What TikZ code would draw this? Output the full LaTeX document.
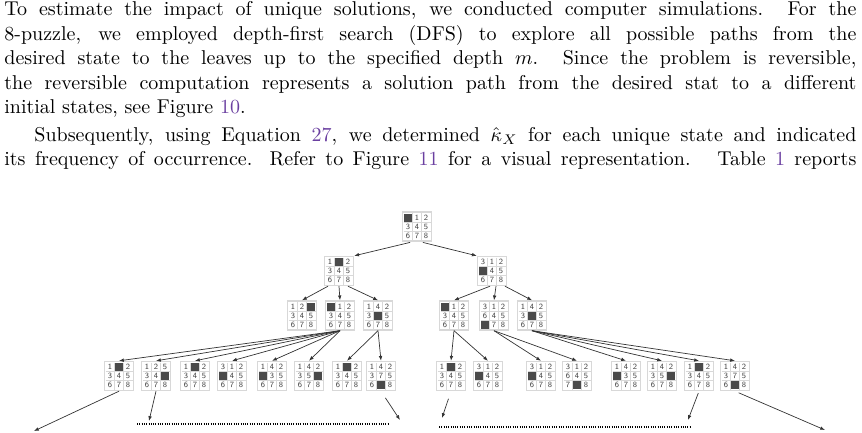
\documentclass[tikz,border=0pt]{standalone}
\usepackage{amsmath}
\usepackage{xcolor}
\usepackage{tikz}
\usetikzlibrary{positioning, arrows.meta, calc}
\definecolor{linkc}{HTML}{6A3FA0}
\definecolor{tilegray}{HTML}{D8D8D8}
\definecolor{blankc}{HTML}{4A4A4A}

% one 8-puzzle state: name, centre, nine entries (0 = blank)
\newcommand{\pstate}[3]{%
  \node[puzbox] (#1) at (#2) {};
  \foreach \v [count=\k from 0] in {#3} {%
    \pgfmathtruncatemacro{\rr}{\k/3}%
    \pgfmathtruncatemacro{\cc}{\k-3*\rr}%
    \ifnum\v=0
      \fill[blankc] ($(#1)+({\cc*9-13},{\rr*9-13})$) rectangle ++(8,8);
    \else
      \node[digit] (#1d\k) at ($(#1)+({\cc*9-9},{\rr*9-9})$) {\v};
    \fi
  }%
  \foreach \i in {1,2} {%
    \draw[cell] ($(#1)+({9*\i-13.5},-13.5)$) -- ++(0,27);
    \draw[cell] ($(#1)+(-13.5,{9*\i-13.5})$) -- ++(27,0);
  }%
}

\begin{document}
\begin{tikzpicture}[
  x=0.5pt, y=-0.5pt,
  puzbox/.style={draw=tilegray, line width=0.7pt, fill=white,
                 minimum size=14.5pt, inner sep=0pt},
  cell/.style={draw=tilegray, line width=0.3pt},
  digit/.style={font=\fontsize{4}{5}\selectfont\sffamily, text=black!75,
                inner sep=0pt},
  arr/.style={-{Latex[length=2.4pt, width=1.8pt]}, line width=0.35pt,
              draw=black!80},
  dots/.style={line width=0.6pt, dash pattern=on 0.45pt off 0.7pt},
  para/.style={text width=426pt, inner sep=0pt, align=justify,
               font=\fontsize{10}{12.25}\selectfont, anchor=base west}
]
\useasboundingbox (0,0) rectangle (862,433);

\node[para] (txt) at (4,16)
  {To estimate the impact of unique solutions, we conducted computer simulations. For the\linebreak
   8-puzzle, we employed depth-first search (DFS) to explore all possible paths from the\linebreak
   desired state to the leaves up to the specified depth $m$. Since the problem is reversible,\linebreak
   the reversible computation represents a solution path from the desired stat to a different\linebreak
   initial states, see Figure~{\color{linkc}10}.\par\vspace{1.3pt}
   \hspace*{15pt}Subsequently, using Equation~{\color{linkc}27}, we determined $\hat{\kappa}_X$ for each unique state and indicated\linebreak
   its frequency of occurrence. Refer to Figure~{\color{linkc}11} for a visual representation. \ Table~{\color{linkc}1} reports\parfillskip=0pt\par};

% root and first two levels
\pstate{r0}{417,226.5}{0,1,2,3,4,5,6,7,8}
\pstate{a1}{339,271}{1,0,2,3,4,5,6,7,8}
\pstate{a2}{492,271}{3,1,2,0,4,5,6,7,8}
\pstate{b1}{302,315.5}{1,2,0,3,4,5,6,7,8}
\pstate{b2}{340,315.5}{0,1,2,3,4,5,6,7,8}
\pstate{b3}{378,315.5}{1,4,2,3,0,5,6,7,8}
\pstate{b4}{454,315.5}{0,1,2,3,4,5,6,7,8}
\pstate{b5}{494,315.5}{3,1,2,6,4,5,0,7,8}
\pstate{b6}{532,315.5}{1,4,2,3,0,5,6,7,8}

% third level
\pstate{c1}{119,376}{1,0,2,3,4,5,6,7,8}
\pstate{c2}{156,376}{1,2,5,3,4,0,6,7,8}
\pstate{c3}{195,376}{1,0,2,3,4,5,6,7,8}
\pstate{c4}{232,376}{3,1,2,0,4,5,6,7,8}
\pstate{c5}{272,376}{1,4,2,0,3,5,6,7,8}
\pstate{c6}{309,376}{1,4,2,3,5,0,6,7,8}
\pstate{c7}{347,376}{1,0,2,3,4,5,6,7,8}
\pstate{c8}{381,376}{1,4,2,3,7,5,6,0,8}
\pstate{c9}{451,376}{1,0,2,3,4,5,6,7,8}
\pstate{c10}{488,376}{3,1,2,0,4,5,6,7,8}
\pstate{c11}{541,376}{3,1,2,0,4,5,6,7,8}
\pstate{c12}{577,376}{3,1,2,6,4,5,7,0,8}
\pstate{c13}{626,376}{1,4,2,0,3,5,6,7,8}
\pstate{c14}{662,376}{1,4,2,3,5,0,6,7,8}
\pstate{c15}{699,376}{1,0,2,3,4,5,6,7,8}
\pstate{c16}{735,376}{1,4,2,3,7,5,6,0,8}

% root -> level 1
\draw[arr, shorten <=1.5pt] ($(r0.south)+(-4,0)$) -- (a1.north east);
\draw[arr, shorten <=1.5pt] ($(r0.south)+(3,0)$) -- (a2.north west);
% level 1 -> level 2
\draw[arr] ($(a1.south)+(-11,0)$) -- (b1.north);
\draw[arr] (a1.south) -- (b2.north);
\draw[arr] ($(a1.south)+(9,0)$) -- (b3.north);
\draw[arr] ($(a2.south)+(-2,0)$) -- (b4.north);
\draw[arr] ($(a2.south)+(4,0)$) -- (b5.north);
\draw[arr] ($(a2.south)+(13,0)$) -- (b6.north);
% level 2 -> level 3
\foreach \c in {c1,c2,c3,c4,c5,c6}
  \draw[arr] (b2.south) -- (\c.north);
\foreach \c in {c7,c8}
  \draw[arr] (b3.south) -- (\c.north);
\foreach \c in {c9,c10}
  \draw[arr] (b4.south) -- (\c.north);
\foreach \c in {c11,c12}
  \draw[arr] (b5.south) -- (\c.north);
\foreach \c in {c13,c14,c15,c16}
  \draw[arr] (b6.south) -- (\c.north);

% deeper levels, left out
\coordinate (e1) at (34,431);
\coordinate (e2) at (149,421);
\coordinate (e3) at (400,420);
\coordinate (e4) at (442,418);
\coordinate (e5) at (688,420);
\coordinate (e6) at (825,430);
\draw[arr] (c1.south) -- (e1);
\draw[arr] (c2.south) -- (e2);
\draw[arr, shorten <=4pt] (c8.south) -- (e3);
\draw[arr, shorten <=4pt] (c9.south) -- (e4);
\draw[arr, shorten <=1pt] (c15.south) -- (e5);
\draw[arr, shorten <=2pt] (c16.south) -- (e6);
\coordinate (g1) at (137,424);
\coordinate (g2) at (389,424);
\coordinate (g3) at (439,427);
\coordinate (g4) at (690,427);
\draw[dots] (g1) -- (g2);
\draw[dots] (g3) -- (g4);
\end{tikzpicture}
\end{document}
